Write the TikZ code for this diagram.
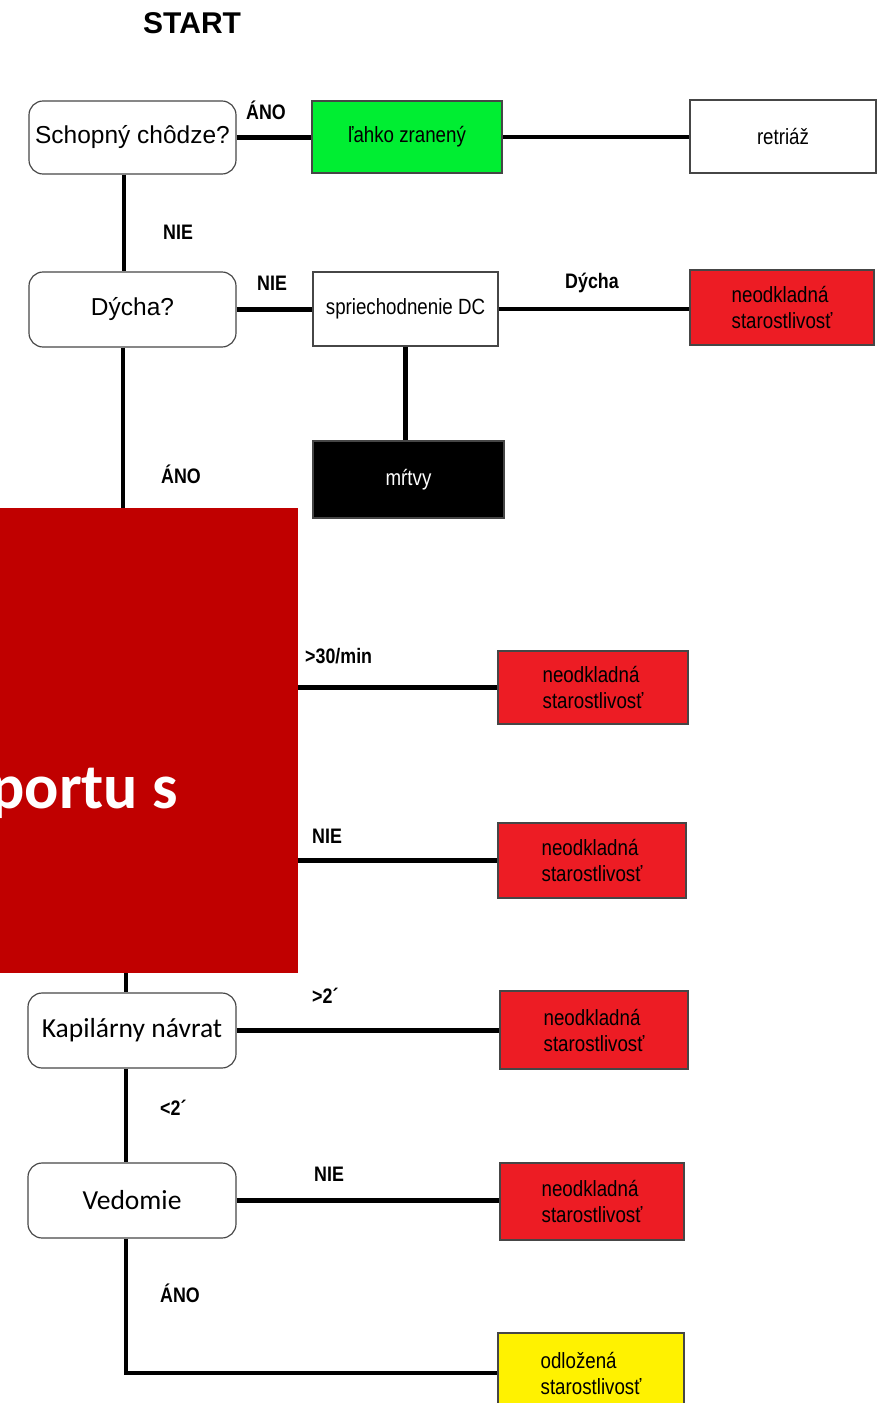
\documentclass[tikz,border=0pt]{standalone}
\usepackage{fontspec}
\setmainfont{Liberation Sans}
\newfontfamily\narrowfont[FakeStretch=0.85]{Liberation Sans}
\newfontfamily\calfont{Carlito}
\definecolor{okgreen}{RGB}{0,238,50}
\definecolor{urgentred}{RGB}{237,28,36}
\definecolor{delayyellow}{RGB}{255,242,0}
\definecolor{coverred}{RGB}{192,0,0}
\definecolor{boxgray}{RGB}{70,70,70}

\begin{document}
\begin{tikzpicture}[x=0.03cm, y=-0.03cm,
	sz/.style 2 args={minimum width=#1*0.03cm, minimum height=#2*0.03cm},
	question/.style={draw=boxgray, line width=1pt, rounded corners=12pt, inner sep=0pt, font=\fontsize{20.9}{25}\selectfont},
	question2/.style={question, font=\calfont\fontsize{23.5}{28}\selectfont},
	result/.style={draw=boxgray, line width=1.3pt, inner sep=0pt, align=left, font=\narrowfont\fontsize{18.8}{22.2}\selectfont},
	lbl/.style={anchor=base west, inner sep=0pt, font=\narrowfont\bfseries\fontsize{17.9}{20}\selectfont},
	link/.style={line width=3.6pt}]
	\useasboundingbox (0,0) rectangle (889,1403);
	\clip (0,0) rectangle (889,1403);
	
	\node[anchor=base west, inner sep=0pt, font=\bfseries\fontsize{25.6}{30}\selectfont] (start) at (143,34) {START};
	
	\node[question, sz={207}{73}] (chodza) at (132.5,137.5) {Schopný chôdze?};
	\node[question, sz={207}{75}] (dycha) at (132.5,309.5) {Dýcha?};
	\node[question2, sz={208}{75}] (kapilar) at (132,1030.5) {Kapilárny návrat};
	\node[question2, sz={208}{75}] (vedomie) at (132,1200.5) {Vedomie};
	
	\node[result, fill=okgreen, sz={190}{72}] (lahko) at (407,137) {ľahko zranený};
	\node[result, sz={186}{73}] (retriaz) at (783,136.5) {retriáž};
	\node[result, sz={185}{74}] (priechod) at (405.5,309) {spriechodnenie DC};
	\node[result, fill=black, text=white, sz={191}{77}] (mrtvy) at (408.5,479.5) {\raisebox{-0.25cm}{mŕtvy}};
	\node[result, fill=delayyellow, sz={186}{80}] (odlozena) at (591,1373) {odložená\\starostlivosť};
	\foreach \n/\x/\y/\w/\h in {1/782/307.5/184/75, 2/593/687.5/190/73, 3/592/860.5/188/75, 4/594/1030/188/78, 5/592/1201.5/184/77}
	{
		\node[result, fill=urgentred, sz={\w}{\h}] (neod\n) at (\x,\y) {neodkladná\\starostlivosť};
	}
	
	\coordinate (krytA) at (0,508);
	\coordinate (krytB) at (298,973);
	
	\draw[link] (chodza.east) -- (chodza.east -| lahko.west);
	\draw[link] (lahko.east) -- (lahko.east -| retriaz.west);
	\draw[link] ([xshift=-0.25cm]chodza.south) -- ([xshift=-0.25cm]dycha.north);
	\draw[link] (dycha.east) -- (dycha.east -| priechod.west);
	\draw[link] (priechod.east) -- (priechod.east -| neod1.west);
	\draw[link] (priechod.south) -- (priechod.south |- mrtvy.north);
	\draw[link] ([xshift=-0.28cm]dycha.south) -- ([xshift=-0.28cm]dycha.south |- krytA);
	\draw[link] (krytB |- neod2.west) -- (neod2.west);
	\draw[link] (krytB |- neod3.west) -- (neod3.west);
	\draw[link] ([xshift=-0.18cm]kapilar.north |- krytB) -- ([xshift=-0.18cm]kapilar.north);
	\draw[link] (kapilar.east) -- (kapilar.east -| neod4.west);
	\draw[link] ([xshift=-0.18cm]kapilar.south) -- ([xshift=-0.18cm]vedomie.north);
	\draw[link] (vedomie.east) -- (vedomie.east -| neod5.west);
	\draw[link] ([xshift=-0.18cm]vedomie.south) |- (odlozena.west);
	
	\foreach \t/\x/\y [count=\i] in {ÁNO/246/119, NIE/163/239, NIE/257/290, Dýcha/565/288, ÁNO/161/483, {>30/min}/305/663, NIE/312/843, >2´/312/1003, <2´/160/1115, NIE/314/1181, ÁNO/160/1302}
	{
		\node[lbl] (lbl\i) at (\x,\y) {\t};
	}
	
	\fill[coverred] (krytA) rectangle (krytB);
	\begin{scope}
		\clip (krytA) rectangle (krytB);
		\node[anchor=base west, inner sep=0pt, text=white, font=\calfont\bfseries\fontsize{54.6}{60}\selectfont] (kryttext) at (-10,808) {portu s};
	\end{scope}
\end{tikzpicture}
\end{document}
